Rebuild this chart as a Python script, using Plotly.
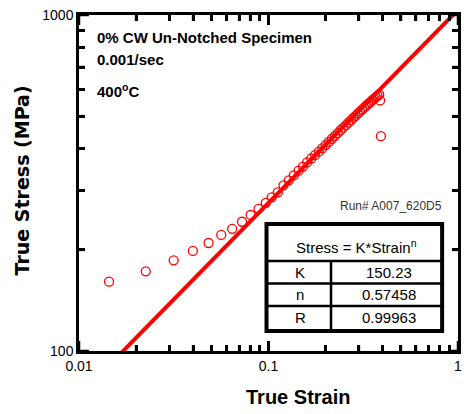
import plotly.graph_objects as go
import numpy as np

# ---- data ----
strain = [0.0144, 0.0225, 0.0316, 0.0399, 0.0483, 0.0563, 0.0643, 0.0725, 0.0805,
          0.0887, 0.0968, 0.104, 0.112, 0.120, 0.128, 0.136, 0.144, 0.152, 0.160,
          0.168, 0.176, 0.184, 0.192, 0.200, 0.208, 0.216, 0.224, 0.232, 0.240,
          0.248, 0.256, 0.264, 0.272, 0.280, 0.288, 0.296, 0.304, 0.312, 0.320,
          0.328, 0.336, 0.344, 0.352, 0.360, 0.368, 0.376, 0.384, 0.388, 0.392]
stress = [160.8, 172.6, 186.2, 198.5, 209.6, 221.5, 231.0, 242.5, 254.0,
          265.0, 276.0, 286.6, 296.7, 311, 322, 333, 344, 354, 364,
          374, 383, 392, 401, 410, 419, 428, 437, 445, 454,
          462, 470, 478, 486, 494, 501, 509, 516, 523, 530,
          537, 544, 550, 557, 563, 569, 575, 580, 557, 436]

fit_labels = ["K", "n", "R"]
fit_values = ["150.23", "0.57458", "0.99963"]
K_ksi = 150.23
n_exp = 0.57458
KSI_TO_MPA = 6.895

x_tickvals = [0.01, 0.1, 1]
x_minor = [0.02, 0.03, 0.04, 0.05, 0.06, 0.07, 0.08, 0.09,
           0.2, 0.3, 0.4, 0.5, 0.6, 0.7, 0.8, 0.9]
y_tickvals = [100, 1000]
y_minor = [200, 300, 400, 500, 600, 700, 800, 900]
X_RANGE = [-2, 0]   # log10
Y_RANGE = [2, 3]    # log10

# ---- layout geometry (pixels) ----
W, H = 464, 414
L, R, T, B = 79, 3, 15, 63
PW, PH = W - L - R, H - T - B


def px(x):
    return (x - L) / PW


def py(y):
    return (H - B - y) / PH


FONT = "Arial"

fit_x = np.logspace(-2, 0, 50)
fit_y = K_ksi * KSI_TO_MPA * fit_x ** n_exp

fig = go.Figure()
fig.add_trace(go.Scatter(x=fit_x, y=fit_y, mode="lines",
                         line=dict(color="#ff0000", width=4), showlegend=False))
fig.add_trace(go.Scatter(x=strain, y=stress, mode="markers",
                         marker=dict(symbol="circle-open", size=9,
                                     color="#ff0000", line=dict(width=1.3, color="#ff0000")),
                         showlegend=False))

axis_common = dict(showgrid=False, zeroline=False, showline=True, linecolor="black",
                   linewidth=2.5, mirror="ticks", ticks="inside", ticklen=10, tickwidth=2.5,
                   tickcolor="black", tickfont=dict(family=FONT, size=14, color="black"))

fig.update_xaxes(type="log", range=X_RANGE, tickmode="array", tickvals=x_tickvals,
                 minor=dict(tickmode="array", tickvals=x_minor, ticks="inside", ticklen=6,
                            tickwidth=2.5, tickcolor="black", showgrid=False),
                 **axis_common)
fig.update_yaxes(type="log", range=Y_RANGE, tickmode="array", tickvals=y_tickvals,
                 minor=dict(tickmode="array", tickvals=y_minor, ticks="inside", ticklen=6,
                            tickwidth=2.5, tickcolor="black", showgrid=False),
                 **axis_common)

shapes = []
MAJ, MIN = 10, 6
TICK_LINE = dict(color="black", width=2.5)
for vals, ln in [(x_tickvals, MAJ), (x_minor, MIN)]:
    for v in vals:
        fx = float((np.log10(v) - X_RANGE[0]) / (X_RANGE[1] - X_RANGE[0]))
        shapes.append(dict(type="line", xref="paper", yref="paper", x0=fx, x1=fx,
                           y0=0, y1=ln / PH, line=TICK_LINE, layer="above"))
        shapes.append(dict(type="line", xref="paper", yref="paper", x0=fx, x1=fx,
                           y0=1 - ln / PH, y1=1, line=TICK_LINE, layer="above"))
for vals, ln in [(y_tickvals, MAJ), (y_minor, MIN)]:
    for v in vals:
        fy = float((np.log10(v) - Y_RANGE[0]) / (Y_RANGE[1] - Y_RANGE[0]))
        shapes.append(dict(type="line", xref="paper", yref="paper", x0=0, x1=ln / PW,
                           y0=fy, y1=fy, line=TICK_LINE, layer="above"))
        shapes.append(dict(type="line", xref="paper", yref="paper", x0=1 - ln / PW, x1=1,
                           y0=fy, y1=fy, line=TICK_LINE, layer="above"))

ann = []
ann.append(dict(x=px(300), y=py(397), xref="paper", yref="paper", text="<b>True Strain</b>",
                showarrow=False, font=dict(family=FONT, size=20, color="black"),
                xanchor="center", yanchor="middle"))
ann.append(dict(x=px(22), y=py(180), xref="paper", yref="paper", text="<b>True Stress (MPa)</b>",
                showarrow=False, textangle=-90,
                font=dict(family="DejaVu Sans", size=19, color="black"),
                xanchor="center", yanchor="middle"))
for text, yy in [("<b>0% CW Un-Notched Specimen</b>", 37), ("<b>0.001/sec</b>", 60),
                 ("<b>400<sup>o</sup>C</b>", 90)]:
    ann.append(dict(x=px(95), y=py(yy), xref="paper", yref="paper", text=text,
                    showarrow=False, font=dict(family=FONT, size=15, color="black"),
                    xanchor="left", yanchor="middle"))
ann.append(dict(x=px(447), y=py(206), xref="paper", yref="paper", text="Run# A007_620D5",
                showarrow=False, font=dict(family=FONT, size=12, color="#333333"),
                xanchor="right", yanchor="middle"))

tx0, tx1, ty0, ty1 = 268, 445, 224, 331
colx = 333
rows = [261, 283.5, 306]
shapes.append(dict(type="rect", xref="paper", yref="paper", x0=px(tx0), x1=px(tx1),
                   y0=py(ty1), y1=py(ty0), line=dict(color="black", width=4),
                   fillcolor="white", layer="above"))
for ry in rows:
    shapes.append(dict(type="line", xref="paper", yref="paper", x0=px(tx0), x1=px(tx1),
                       y0=py(ry), y1=py(ry), line=dict(color="black", width=2.5)))
shapes.append(dict(type="line", xref="paper", yref="paper", x0=px(colx), x1=px(colx),
                   y0=py(rows[0]), y1=py(ty1), line=dict(color="black", width=2.5)))

TFONT = dict(family=FONT, size=15, color="black")
ann.append(dict(x=px(359), y=py(246), xref="paper", yref="paper",
                text="Stress = K*Strain<sup>n</sup>", showarrow=False, font=TFONT,
                xanchor="center", yanchor="middle"))
row_centers = [272, 294.5, 317]
for lab, val, cy in zip(fit_labels, fit_values, row_centers):
    ann.append(dict(x=px(302), y=py(cy), xref="paper", yref="paper", text=lab,
                    showarrow=False, font=TFONT, xanchor="center", yanchor="middle"))
    ann.append(dict(x=px(391), y=py(cy), xref="paper", yref="paper", text=val,
                    showarrow=False, font=TFONT, xanchor="center", yanchor="middle"))

fig.update_layout(width=W, height=H, margin=dict(l=L, r=R, t=T, b=B),
                  plot_bgcolor="white", paper_bgcolor="white",
                  annotations=ann, shapes=shapes, showlegend=False)

fig.write_html("out.html")
